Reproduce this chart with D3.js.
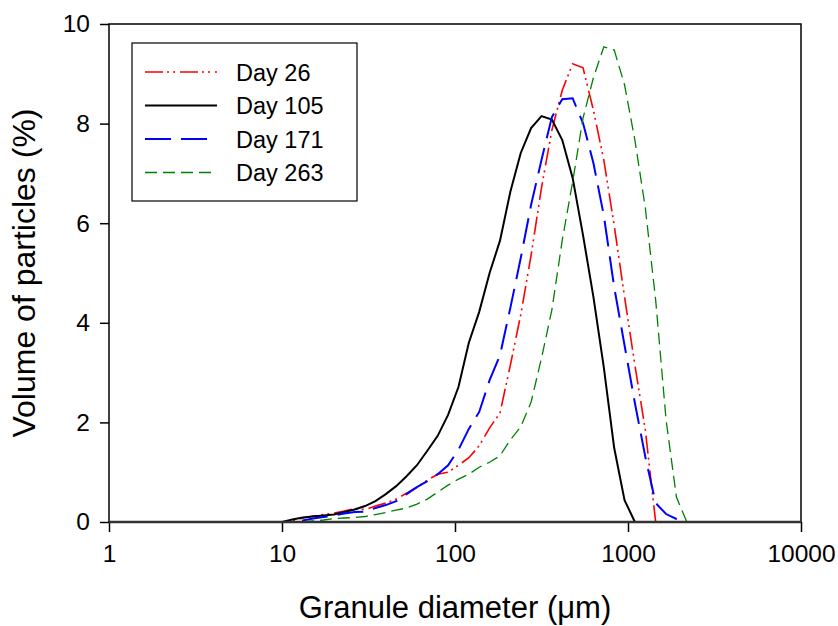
<!DOCTYPE html>
<html>
<head>
<meta charset="utf-8">
<script src="https://cdn.jsdelivr.net/npm/d3@7"></script>
<style>
    body { margin: 0; background: #fff; }
    text { font-family: "Liberation Sans", Arial, sans-serif; }
</style>
</head>
<body>
<div id="chart"></div>
<script>
// Particle size bins (um), shared by all samples
const sizes = [5.01, 5.75, 6.61, 7.59, 8.71, 10.0, 11.48, 13.18, 15.14, 17.38,
    19.95, 22.91, 26.30, 30.20, 34.67, 39.81, 45.71, 52.48, 60.26, 69.18,
    79.43, 91.20, 104.7, 120.2, 138.0, 158.5, 182.0, 208.9, 239.9, 275.4,
    316.2, 363.1, 416.9, 478.6, 549.5, 631.0, 724.4, 831.8, 955.0, 1096,
    1259, 1445, 1660, 1905, 2188, 2512, 2884, 3311];

// Volume (%) per bin
const day26 = [0, 0, 0, 0, 0, 0, 0.02, 0.08, 0.12, 0.15,
    0.18, 0.22, 0.27, 0.25, 0.32, 0.38, 0.46, 0.58, 0.70, 0.84,
    0.96, 1.00, 1.14, 1.29, 1.53, 1.89, 2.19, 3.15, 4.16, 5.36,
    6.71, 7.87, 8.67, 9.20, 9.12, 8.27, 7.27, 5.96, 4.52, 3.15,
    1.85, 0, 0, 0, 0, 0, 0, 0];
const day105 = [0, 0, 0, 0, 0, 0, 0.05, 0.09, 0.11, 0.13,
    0.15, 0.20, 0.25, 0.32, 0.42, 0.56, 0.72, 0.92, 1.14, 1.43,
    1.73, 2.15, 2.71, 3.60, 4.22, 5.00, 5.65, 6.63, 7.41, 7.91,
    8.15, 8.08, 7.67, 6.91, 5.76, 4.52, 3.11, 1.49, 0.44, 0,
    0, 0, 0, 0, 0, null, null, null];
const day171 = [0, 0, 0, 0, 0, 0, 0, 0.03, 0.07, 0.10,
    0.13, 0.17, 0.20, 0.21, 0.28, 0.34, 0.42, 0.56, 0.70, 0.82,
    0.96, 1.14, 1.45, 1.87, 2.21, 2.85, 3.35, 4.30, 5.30, 6.37,
    7.27, 8.13, 8.49, 8.51, 8.01, 7.21, 6.16, 4.72, 3.55, 2.39,
    1.31, 0.38, 0.16, 0.06, 0, 0, 0, 0];
const day263 = [0, 0, 0, 0, 0, 0, 0, 0, 0.02, 0.04,
    0.07, 0.08, 0.09, 0.11, 0.15, 0.19, 0.24, 0.28, 0.36, 0.46,
    0.60, 0.74, 0.86, 0.96, 1.10, 1.20, 1.33, 1.65, 1.91, 2.41,
    3.29, 4.26, 5.66, 6.83, 8.11, 8.92, 9.54, 9.48, 8.78, 7.67,
    6.31, 4.46, 2.05, 0.50, 0, 0, 0, 0];

const seriesNames = ['Day 26', 'Day 105', 'Day 171', 'Day 263'];
const xTicks = [1, 10, 100, 1000, 10000];
const yTicks = [0, 2, 4, 6, 8, 10];

// Dimensions
const width = 838;
const height = 626;
const plot = { left: 109, right: 801, top: 24, bottom: 522 };

const styles = [
    { color: '#ff0000', dash: '18,4,2,4,2,5', width: 1.6 },
    { color: '#000000', dash: null, width: 2 },
    { color: '#0000ff', dash: '26,10', width: 2 },
    { color: '#008000', dash: '12,6', width: 1.3 }
];

const svg = d3.select('#chart')
    .append('svg')
    .attr('width', width)
    .attr('height', height);

const xScale = d3.scaleLog().domain([1, 10000]).range([plot.left, plot.right]);
const yScale = d3.scaleLinear().domain([0, 10]).range([plot.bottom, plot.top]);

// Curves
const allSeries = [day26, day105, day171, day263].map(vals =>
    sizes.map((s, i) => ({ size: s, vol: vals[i] })));

const line = d3.line()
    .defined(d => d.vol !== null)
    .x(d => xScale(d.size))
    .y(d => yScale(d.vol));

svg.selectAll('.curve')
    .data(allSeries)
    .enter()
    .append('path')
    .attr('class', 'curve')
    .attr('d', line)
    .attr('fill', 'none')
    .attr('stroke', (d, i) => styles[i].color)
    .attr('stroke-width', (d, i) => styles[i].width)
    .attr('stroke-dasharray', (d, i) => styles[i].dash);

// Axes
const xAxis = d3.axisBottom(xScale)
    .tickValues(xTicks)
    .tickFormat(d3.format('d'))
    .tickSize(10)
    .tickPadding(13);
const yAxis = d3.axisLeft(yScale)
    .tickValues(yTicks)
    .tickSize(9)
    .tickPadding(10);

const gx = svg.append('g')
    .attr('transform', `translate(0, ${plot.bottom})`)
    .call(xAxis);
const gy = svg.append('g')
    .attr('transform', `translate(${plot.left}, 0)`)
    .call(yAxis);

[gx, gy].forEach(g => {
    g.select('.domain').remove();
    g.selectAll('line').attr('stroke', '#000').attr('stroke-width', 1.5);
    g.selectAll('text')
        .attr('fill', '#000')
        .style('font-size', '24.5px');
});

// Frame
svg.append('rect')
    .attr('x', plot.left)
    .attr('y', plot.top)
    .attr('width', plot.right - plot.left)
    .attr('height', plot.bottom - plot.top)
    .attr('fill', 'none')
    .attr('stroke', '#000')
    .attr('stroke-width', 1.5);
svg.append('line')
    .attr('x1', plot.left).attr('x2', plot.right)
    .attr('y1', plot.bottom).attr('y2', plot.bottom)
    .attr('stroke', '#333')
    .attr('stroke-width', 2.5);

// Axis titles
svg.append('text')
    .attr('x', (plot.left + plot.right) / 2)
    .attr('y', 618)
    .attr('text-anchor', 'middle')
    .style('font-size', '31px')
    .text('Granule diameter (μm)');
svg.append('text')
    .attr('transform', `translate(35, ${(plot.top + plot.bottom) / 2}) rotate(-90)`)
    .attr('text-anchor', 'middle')
    .style('font-size', '32px')
    .text('Volume of particles (%)');

// Legend
const legend = svg.append('g');
legend.append('rect')
    .attr('x', 132)
    .attr('y', 43)
    .attr('width', 225)
    .attr('height', 158)
    .attr('fill', '#fff')
    .attr('stroke', '#000')
    .attr('stroke-width', 1.2);

const rows = legend.selectAll('.row')
    .data(seriesNames)
    .enter()
    .append('g')
    .attr('class', 'row')
    .attr('transform', (d, i) => `translate(0, ${72 + i * 33.5})`);

rows.append('line')
    .attr('x1', 145)
    .attr('x2', 217)
    .attr('stroke', (d, i) => styles[i].color)
    .attr('stroke-width', (d, i) => styles[i].width)
    .attr('stroke-dasharray', (d, i) => styles[i].dash);

rows.append('text')
    .attr('x', 236)
    .attr('y', 8.5)
    .style('font-size', '23.5px')
    .text(d => d);
</script>
</body>
</html>
